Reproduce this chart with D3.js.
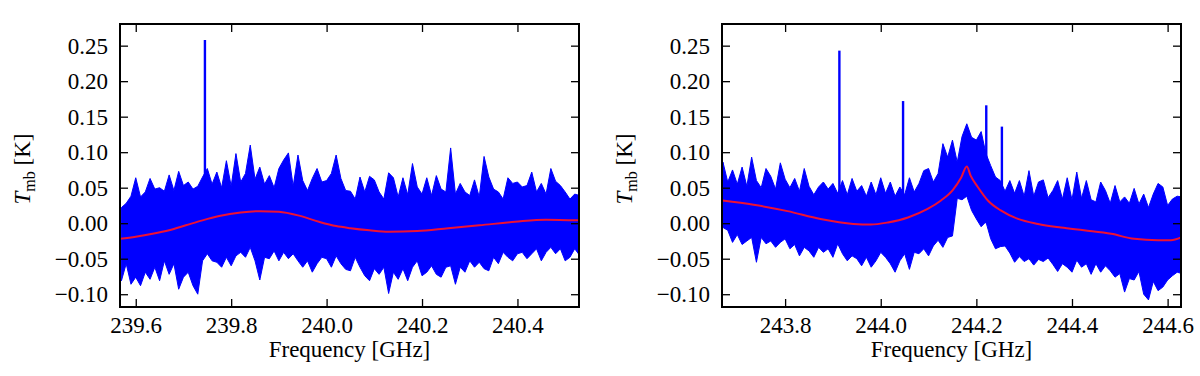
<!DOCTYPE html>
<html>
<head>
<meta charset="utf-8">
<script src="https://cdn.jsdelivr.net/npm/d3@7"></script>
<style>
  body { margin: 0; background: #fff; }
</style>
</head>
<body>
<div id="chart"></div>
<script>
// spectra are sampled on a 0.01 GHz channel grid; values are in mK
// (upper / lower edge of the noisy spectrum in each channel)
const channelStep = 0.01;

const leftStart = 239.57;
const leftHigh = [22,28,38,64,37,44,63,48,50,45, 68,46,73,53,58,48,52,65,77,55,
  72,50,88,52,98,58,70,110,62,79, 55,67,50,77,89,99,52,96,60,46,
  63,77,58,60,70,96,63,46,
  45,34,65,44,66,61,44,34,71,64, 37,64,40,84,51,41,64,39,67,48,
  44,106,41,56,44,39,61,37,94,65, 48,44,34,64,56,58,51,53,72,44,
  56,41,77,59,53,44,34,41,39];
const leftLow = [-81,-57,-86,-76,-88,-69,-79,-62,-81,-53, -72,-57,-93,-76,-69,-88,-100,-53,-43,-53,
  -55,-62,-48,-60,-46,-41,-48,-34,-53,-80, -48,-50,-39,-53,-41,-50,-43,-53,-62,-53,
  -69,-57,-48,-50,-62,-46,-57,-65,
  -67,-48,-62,-74,-81,-64,-72,-62,-99,-69, -79,-64,-81,-62,-53,-74,-69,-60,-72,-76,
  -62,-60,-86,-62,-69,-53,-62,-55,-64,-67, -48,-57,-41,-48,-53,-43,-41,-50,-43,-36,
  -53,-41,-34,-43,-36,-53,-48,-36,-45];
const leftSpikeFreq = [239.745];
const leftSpikePeak = [258];
const leftFitFreq = [239.567, 239.60, 239.635, 239.67, 239.705, 239.74, 239.775, 239.82, 239.86, 239.90, 239.94,
  239.984, 240.02, 240.05, 240.09, 240.13, 240.19, 240.255, 240.32, 240.395, 240.46, 240.53];
const leftFitT = [-22, -19, -15, -10, -3, 4, 10, 15, 17, 16, 11, 2, -4, -7, -10, -12, -11, -7, -3, 2, 5, 4];

const rightStart = 243.67;
const rightHigh = [86,58,75,55,79,52,93,60,50,77, 66,48,85,62,50,63,45,77,52,40,
  51,58,48,56,42,60,40,63,45,53, 38,58,40,64,42,58,38,51,40,64,
  44,56,74,77,58,70,112,93,
  117,86,122,140,121,117,129,98,81,65, 60,45,60,42,60,38,74,38,58,61,
  36,46,60,34,64,33,72,35,60,33, 30,58,46,28,53,30,37,28,49,27,
  41,22,41,56,51,25,34,38,37];
const rightLow = [-6,-10,-27,-16,-30,-25,-20,-55,-20,-29, -25,-34,-27,-22,-36,-30,-46,-34,-39,-48,
  -34,-41,-36,-48,-29,-43,-53,-46,-50,-60, -48,-62,-53,-41,-48,-57,-69,-53,-43,-65,
  -41,-43,-36,-46,-32,-24,-34,-20,
  -18,35,33,38,18,6,-5,2,-22,-36, -33,-32,-42,-55,-47,-54,-50,-59,-51,-54,
  -49,-58,-68,-57,-62,-69,-52,-62,-57,-72, -57,-69,-60,-67,-76,-71,-97,-78,-80,-68,
  -100,-108,-82,-95,-90,-80,-74,-69,-71];
const rightSpikeFreq = [243.9135, 244.0467, 244.2207, 244.2534];
const rightSpikePeak = [243, 172, 166, 136];
const rightFitFreq = [243.669, 243.734, 243.805, 243.874, 243.943, 243.979, 244.015, 244.057, 244.098, 244.126,
  244.151, 244.168, 244.18, 244.188, 244.203, 244.224, 244.251, 244.287, 244.329, 244.377,
  244.425, 244.482, 244.53, 244.58, 244.607, 244.628];
const rightFitT = [32, 26, 17, 6, -1, -2, 1, 8, 20, 32, 47, 64, 80, 67, 51, 32, 18, 6, -1, -6, -10, -15, -22, -24, -24, -20];

const leftXTicks = [239.6, 239.8, 240.0, 240.2, 240.4];
const rightXTicks = [243.8, 244.0, 244.2, 244.4, 244.6];
const yTicks = [-0.10, -0.05, 0.00, 0.05, 0.10, 0.15, 0.20, 0.25];

const serif = "Liberation Serif";

const svg = d3.select("#chart").append("svg")
  .attr("width", 1200)
  .attr("height", 376)
  .attr("font-family", serif);

function drawPanel(p) {
  const x = d3.scaleLinear().domain(p.xDomain).range([p.left, p.right]);
  const y = d3.scaleLinear().domain([-0.118, 0.2805]).range([307, 24]);

  const channels = p.high.map((h, i) => ({
    f: p.start + i * channelStep, hi: h / 1000, lo: p.low[i] / 1000
  }));

  const clipId = "clip" + p.id;
  svg.append("clipPath").attr("id", clipId)
    .append("rect")
    .attr("x", p.left).attr("y", 24)
    .attr("width", p.right - p.left).attr("height", 283);

  const g = svg.append("g").attr("clip-path", `url(#${clipId})`);

  g.append("path")
    .datum(channels)
    .attr("fill", "#0000ff")
    .attr("stroke", "#0000ff")
    .attr("stroke-width", 1)
    .attr("d", d3.area()
      .x(d => x(d.f))
      .y0(d => y(d.lo))
      .y1(d => y(d.hi)));

  g.selectAll("line.spike")
    .data(p.spikeFreq.map((f, i) => ({f: f, t: p.spikePeak[i] / 1000})))
    .join("line")
    .attr("class", "spike")
    .attr("x1", d => x(d.f)).attr("x2", d => x(d.f))
    .attr("y1", y(0)).attr("y2", d => y(d.t))
    .attr("stroke", "#0000ff")
    .attr("stroke-width", 2.4);

  g.append("path")
    .datum(p.fitFreq.map((f, i) => ({f: f, t: p.fitT[i] / 1000})))
    .attr("fill", "none")
    .attr("stroke", "#ee1133")
    .attr("stroke-width", 2)
    .attr("d", d3.line().curve(d3.curveMonotoneX)
      .x(d => x(d.f))
      .y(d => y(d.t)));

  // axes, ticks pointing inwards on all four sides
  const bottom = svg.append("g")
    .attr("transform", "translate(0,307)")
    .call(d3.axisBottom(x).tickValues(p.xTicks).tickFormat(d3.format(".1f"))
      .tickSizeInner(-8).tickSizeOuter(0).tickPadding(10));
  const top = svg.append("g")
    .attr("transform", "translate(0,24)")
    .call(d3.axisTop(x).tickValues(p.xTicks).tickFormat("")
      .tickSizeInner(-8).tickSizeOuter(0));
  const leftAx = svg.append("g")
    .attr("transform", `translate(${p.left},0)`)
    .call(d3.axisLeft(y).tickValues(yTicks).tickFormat(d3.format(".2f"))
      .tickSizeInner(-8).tickSizeOuter(0).tickPadding(12));
  const rightAx = svg.append("g")
    .attr("transform", `translate(${p.right},0)`)
    .call(d3.axisRight(y).tickValues(yTicks).tickFormat("")
      .tickSizeInner(-8).tickSizeOuter(0));

  [bottom, top, leftAx, rightAx].forEach(a => {
    a.attr("font-family", serif).attr("font-size", 23);
    a.select(".domain").remove();
    a.selectAll("line").attr("stroke", "#000").attr("stroke-width", 1.3);
    a.selectAll("text").attr("fill", "#000");
  });

  svg.append("rect")
    .attr("x", p.left).attr("y", 24)
    .attr("width", p.right - p.left).attr("height", 283)
    .attr("fill", "none")
    .attr("stroke", "#000")
    .attr("stroke-width", 2);

  svg.append("text")
    .attr("x", (p.left + p.right) / 2)
    .attr("y", 357)
    .attr("text-anchor", "middle")
    .attr("font-family", serif)
    .attr("font-size", 23)
    .text("Frequency [GHz]");

  const yl = svg.append("text")
    .attr("transform", `translate(${p.left - 90},169) rotate(-90)`)
    .attr("text-anchor", "middle")
    .attr("font-family", serif)
    .attr("font-size", 23);
  yl.append("tspan").attr("font-style", "italic").text("T");
  yl.append("tspan").attr("dy", "0.3em").attr("font-size", 16).text("mb");
  yl.append("tspan").attr("dy", "-0.21em").text(" [K]");
}

drawPanel({
  id: "L", left: 120, right: 579, xDomain: [239.567, 240.529],
  start: leftStart, high: leftHigh, low: leftLow,
  spikeFreq: leftSpikeFreq, spikePeak: leftSpikePeak,
  fitFreq: leftFitFreq, fitT: leftFitT, xTicks: leftXTicks
});
drawPanel({
  id: "R", left: 722, right: 1181, xDomain: [243.668, 244.628],
  start: rightStart, high: rightHigh, low: rightLow,
  spikeFreq: rightSpikeFreq, spikePeak: rightSpikePeak,
  fitFreq: rightFitFreq, fitT: rightFitT, xTicks: rightXTicks
});
</script>
</body>
</html>
